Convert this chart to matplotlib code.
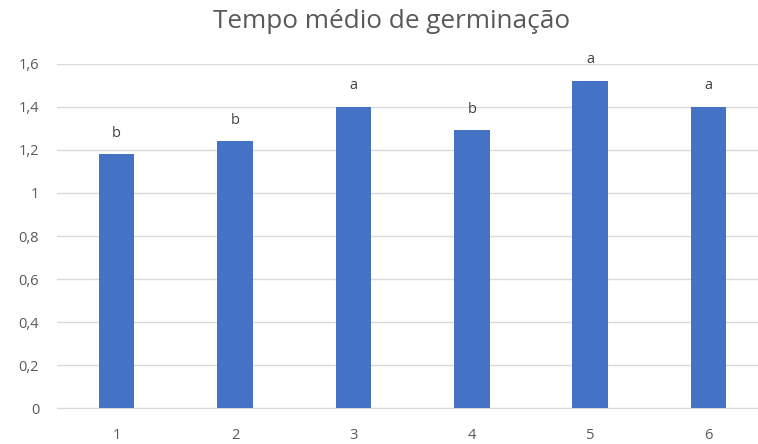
import matplotlib
matplotlib.use("Agg")
import matplotlib.pyplot as plt
import numpy as np

categories = ["1", "2", "3", "4", "5", "6"]
values = [1.18, 1.24, 1.40, 1.29, 1.52, 1.40]
letters = ["b", "b", "a", "b", "a", "a"]
yticks = [0, 0.2, 0.4, 0.6, 0.8, 1.0, 1.2, 1.4, 1.6]
ytick_labels = ["0", "0,2", "0,4", "0,6", "0,8", "1", "1,2", "1,4", "1,6"]
title = "Tempo médio de germinação"

plt.rcParams['font.family'] = ['Open Sans', 'DejaVu Sans']

fig = plt.figure(figsize=(7.58, 4.44), dpi=100)
ax = fig.add_axes([0.0756, 0.0804, 1.013 - 0.0756, 0.8565 - 0.0804])

x = np.arange(len(categories))
ax.bar(x, values, width=0.30, color="#4472C4", zorder=3)
ax.set_xlim(-0.5, len(categories) - 0.5)
ax.set_ylim(0, 1.6)
ax.set_yticks(yticks)
ax.set_yticklabels(ytick_labels)
ax.set_xticks(x)
ax.set_xticklabels(categories)
ax.grid(axis="y", color="#D9D9D9", linewidth=1, zorder=0)
for s in ["top", "right", "left"]:
    ax.spines[s].set_visible(False)
ax.spines["bottom"].set_color("#D9D9D9")
ax.tick_params(axis="both", length=0, colors="#595959", labelsize=10.5)
ax.tick_params(axis="y", pad=13)
ax.tick_params(axis="x", pad=14)

for xi, v, l in zip(x, values, letters):
    ax.annotate(l, (xi, v), xytext=(0, 21), textcoords="offset pixels",
                ha="center", va="center", fontsize=10.5, color="#404040")

fig.text(0.516, 0.937, title, ha="center", va="baseline", fontsize=18.8,
         color="#595959")

fig.savefig("out.png", dpi=100)
